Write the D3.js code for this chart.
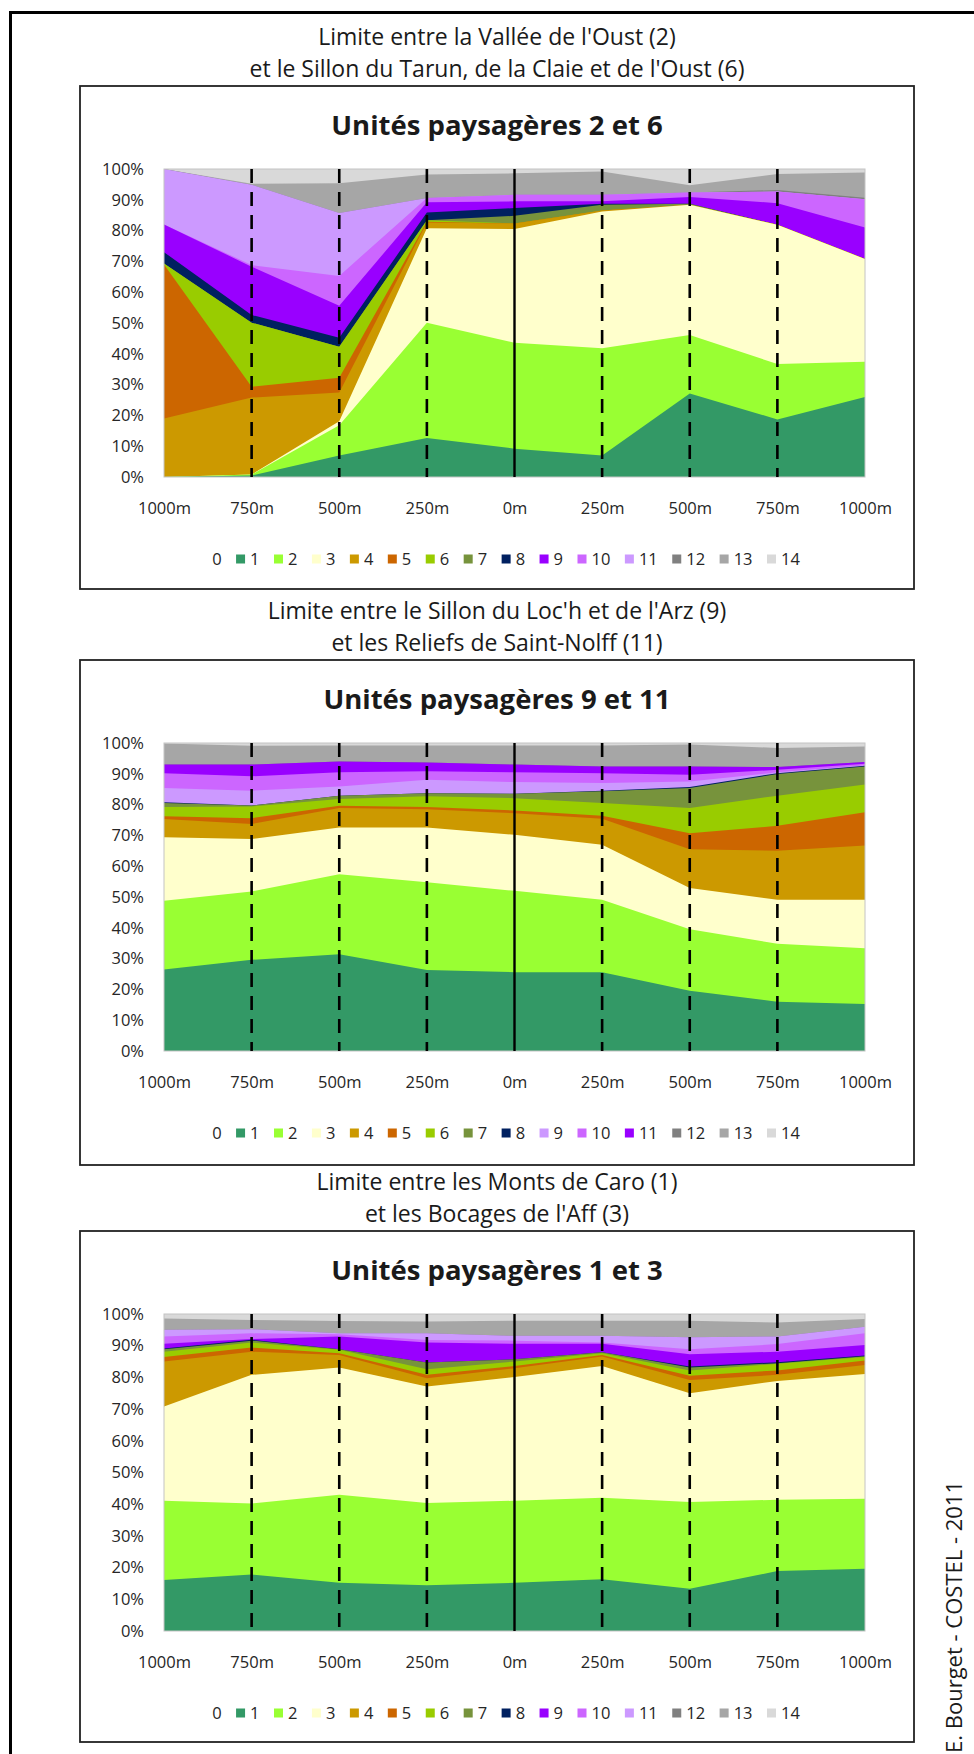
<!DOCTYPE html>
<html>
<head>
<meta charset="utf-8">
<title>Unités paysagères</title>
<script src="https://d3js.org/d3.v7.min.js"></script>
<style>
    body { margin: 0; background: #fff; }
    svg text { font-family: "Open Sans", "DejaVu Sans", sans-serif; fill: #1a1a1a; }
    .limit { font-size: 23px; }
    .ctitle { font-size: 27.5px; font-weight: bold; }
    .axis text { font-size: 16.5px; fill: #262626; }
    .legend text { font-size: 16.5px; fill: #262626; }
    .credit { font-size: 22px; }
</style>
</head>
<body>
<div id="chart"></div>
<script>
    // distance to the boundary between the two landscape units
    const distances = ["1000m", "750m", "500m", "250m", "0m", "250m", "500m", "750m", "1000m"];
    const units = d3.range(15); // land cover classes 0..14

    const colors = ["#FFFFFF", "#339966", "#99FF33", "#FFFFCC", "#CC9900", "#CC6600", "#99CC00", "#77933C",
        "#002060", "#9900FF", "#CC66FF", "#CC99FF", "#808080", "#A6A6A6", "#D9D9D9"];
    // the second chart swaps the colours of classes 9 and 11
    const colors911 = ["#FFFFFF", "#339966", "#99FF33", "#FFFFCC", "#CC9900", "#CC6600", "#99CC00", "#77933C",
        "#002060", "#CC99FF", "#CC66FF", "#9900FF", "#808080", "#A6A6A6", "#D9D9D9"];

    // % per class (rows 0..14), one column per distance
    const values26 = [
        [0, 0, 0, 0, 0, 0, 0, 0, 0],
        [0, 0.5, 7.0, 12.7, 9.2, 7.0, 27.1, 18.7, 26.0],
        [0, 0.3, 9.8, 37.4, 34.4, 34.8, 19.0, 18.0, 11.4],
        [0, 0, 1.3, 30.7, 36.9, 44.4, 42.3, 45.2, 33.4],
        [19, 25, 9.3, 1.8, 1.8, 0.3, 0, 0, 0],
        [50, 3.5, 4.8, 0.3, 0, 0, 0, 0, 0],
        [0.3, 20.8, 10.1, 0.5, 0, 0, 0, 0, 0],
        [0, 0, 0, 0, 2.5, 1.9, 0.3, 0, 0],
        [3.7, 2.5, 2.9, 2.5, 2.5, 0.3, 0, 0, 0],
        [9, 15.7, 10.4, 3.3, 2.2, 0.8, 2.2, 7.0, 10.2],
        [0, 0.5, 9.7, 1.4, 2.1, 2.1, 1.5, 3.8, 9.2],
        [18, 26.1, 20.4, 0, 0, 0, 0, 0, 0],
        [0, 0, 0, 0, 0, 0, 0, 0.5, 0.5],
        [0, 0.3, 9.7, 7.6, 7.0, 7.6, 2.3, 5.2, 8.2],
        [0, 4.8, 4.6, 1.8, 1.4, 0.8, 5.3, 1.6, 1.1]
    ];

    const values911 = [
        [0, 0, 0, 0, 0, 0, 0, 0, 0],
        [26.5, 29.6, 31.4, 26.3, 25.6, 25.6, 19.6, 16.0, 15.3],
        [22.3, 22.2, 26.0, 28.5, 26.4, 23.5, 19.9, 18.8, 18.1],
        [20.6, 17.0, 15.2, 17.8, 18.2, 17.9, 13.4, 14.3, 15.7],
        [5.9, 4.9, 6.3, 5.9, 7.0, 8.4, 12.6, 15.9, 17.6],
        [0.9, 1.9, 0.7, 0.7, 0.9, 1.0, 5.2, 8.1, 10.8],
        [3.0, 3.8, 2.2, 3.5, 4.0, 4.1, 8.2, 9.8, 9.0],
        [1.3, 0.3, 1.1, 1.0, 1.4, 3.8, 6.5, 7.0, 5.9],
        [0.3, 0, 0, 0, 0, 0.2, 0.3, 0.3, 0.2],
        [4.6, 4.8, 3.0, 4.4, 3.8, 2.5, 1.8, 0.3, 0.2],
        [4.8, 4.7, 4.6, 2.7, 3.2, 3.2, 2.2, 0.8, 0.5],
        [2.8, 3.8, 3.5, 2.9, 2.5, 2.2, 2.7, 0.9, 0.5],
        [0, 0, 0, 0, 0, 0, 0, 0, 0],
        [6.8, 6.1, 5.2, 5.5, 6.2, 6.8, 7.1, 6.2, 5.1],
        [0.2, 0.9, 0.8, 0.8, 0.8, 0.8, 0.5, 1.6, 1.1]
    ];

    const values13 = [
        [0, 0, 0, 0, 0, 0, 0, 0, 0],
        [16.1, 17.8, 15.2, 14.4, 15.2, 16.3, 13.3, 18.9, 19.6],
        [25.0, 22.4, 27.8, 26.0, 25.9, 25.7, 27.4, 22.5, 22.1],
        [29.7, 40.6, 40.1, 36.7, 39.0, 41.6, 34.3, 37.5, 39.4],
        [14.2, 7.3, 4.0, 2.6, 2.8, 3.0, 4.2, 1.9, 2.8],
        [1.4, 1.3, 0.5, 1.1, 0.7, 0.5, 1.3, 1.4, 1.4],
        [1.7, 1.6, 1.1, 1.8, 1.4, 0.5, 1.7, 2.1, 1.1],
        [0.8, 0.6, 0.2, 2.1, 0.7, 0.3, 0.9, 0.2, 0.3],
        [0.2, 0.3, 0, 0, 0, 0, 0.3, 0.3, 0.2],
        [1.5, 0.2, 4.0, 6.3, 4.9, 2.7, 3.9, 3.3, 3.3],
        [2.3, 1.8, 0.7, 0.8, 1.0, 0.4, 1.6, 2.4, 3.7],
        [2.1, 1.3, 0.3, 2.1, 1.5, 2.1, 3.8, 2.4, 2.1],
        [0, 0, 0, 0, 0, 0, 0, 0, 0],
        [3.6, 2.9, 3.9, 3.7, 4.8, 4.8, 5.2, 4.4, 2.4],
        [1.4, 1.9, 2.2, 2.4, 2.1, 2.1, 2.1, 2.7, 1.6]
    ];

    const limits26 = ["Limite entre la Vallée de l'Oust (2)", "et le Sillon du Tarun, de la Claie et de l'Oust (6)"];
    const limits911 = ["Limite entre le Sillon du Loc'h et de l'Arz (9)", "et les Reliefs de Saint-Nolff (11)"];
    const limits13 = ["Limite entre les Monts de Caro (1)", "et les Bocages de l'Aff (3)"];

    const width = 974, height = 1754;
    const boxLeft = 80, boxRight = 914;
    const plotLeft = 164, plotRight = 865;

    const svg = d3.select("#chart").append("svg")
        .attr("width", width)
        .attr("height", height);

    // outer frame
    svg.append("rect")
        .attr("x", 10.5).attr("y", 12.5)
        .attr("width", 1000).attr("height", 1800)
        .attr("fill", "none").attr("stroke", "#000").attr("stroke-width", 3);

    const charts = [
        { limits: limits26, title: "Unités paysagères 2 et 6", values: values26, colors: colors, top: 86, plotH: 308, boxH: 503 },
        { limits: limits911, title: "Unités paysagères 9 et 11", values: values911, colors: colors911, top: 660, plotH: 308, boxH: 505 },
        { limits: limits13, title: "Unités paysagères 1 et 3", values: values13, colors: colors, top: 1231, plotH: 317, boxH: 511 }
    ];

    const cx = (boxLeft + boxRight) / 2;

    charts.forEach(function(c) {
        const g = svg.append("g");
        const py0 = c.top + 83, py1 = py0 + c.plotH;

        // two-line heading above the box
        g.selectAll(".limit")
            .data(c.limits)
            .join("text")
            .attr("class", "limit")
            .attr("x", cx)
            .attr("y", (d, i) => c.top - 49 + i * 32)
            .attr("dy", "0.35em")
            .attr("text-anchor", "middle")
            .text(d => d);

        g.append("rect")
            .attr("x", boxLeft).attr("y", c.top)
            .attr("width", boxRight - boxLeft).attr("height", c.boxH)
            .attr("fill", "#fff").attr("stroke", "#222").attr("stroke-width", 1.8);

        g.append("text")
            .attr("class", "ctitle")
            .attr("x", cx).attr("y", c.top + 39)
            .attr("dy", "0.35em")
            .attr("text-anchor", "middle")
            .text(c.title);

        const x = d3.scalePoint().domain(d3.range(distances.length)).range([plotLeft, plotRight]);
        const y = d3.scaleLinear().domain([0, 1]).range([py1, py0]);

        const rows = distances.map((_, j) => {
            const r = {};
            units.forEach(k => { r[k] = c.values[k][j]; });
            return r;
        });
        const series = d3.stack().keys(units).offset(d3.stackOffsetExpand)(rows);

        // paint from the top class down, each area filled to the baseline
        const area = d3.area()
            .x((d, i) => x(i))
            .y0(py1)
            .y1(d => y(d[1]));

        g.append("g")
            .selectAll("path")
            .data(series.slice().reverse())
            .join("path")
            .attr("d", area)
            .attr("fill", d => c.colors[d.key]);

        g.append("rect")
            .attr("x", plotLeft).attr("y", py0)
            .attr("width", plotRight - plotLeft).attr("height", py1 - py0)
            .attr("fill", "none").attr("stroke", "#c4c4c4").attr("stroke-width", 1);

        // distance markers
        g.append("g")
            .selectAll("line")
            .data(d3.range(1, distances.length - 1))
            .join("line")
            .attr("x1", i => x(i)).attr("x2", i => x(i))
            .attr("y1", py0).attr("y2", py1)
            .attr("stroke", "#000")
            .attr("stroke-width", i => i === 4 ? 2.4 : 2.6)
            .attr("stroke-dasharray", i => i === 4 ? null : "14,9");

        g.append("g")
            .attr("class", "axis")
            .attr("transform", `translate(${plotLeft},0)`)
            .call(d3.axisLeft(y).tickValues(d3.range(0, 11).map(v => v / 10))
                .tickFormat(d3.format(".0%")).tickSize(0).tickPadding(20))
            .call(a => a.select(".domain").remove());

        g.append("g")
            .attr("class", "axis")
            .attr("transform", `translate(0,${py1})`)
            .call(d3.axisBottom(x).tickFormat(i => distances[i]).tickSize(0).tickPadding(25))
            .call(a => a.select(".domain").remove());

        // legend
        const leg = g.append("g").attr("class", "legend");
        let lx = 0;
        units.forEach(function(k) {
            leg.append("rect")
                .attr("x", lx).attr("y", -4.5)
                .attr("width", 9).attr("height", 9)
                .attr("fill", c.colors[k]);
            const t = leg.append("text")
                .attr("x", lx + 14).attr("y", 0)
                .attr("dy", "0.35em")
                .text(k);
            lx += 14 + t.node().getComputedTextLength() + 14.5;
        });
        lx -= 14.5;
        leg.attr("transform", `translate(${cx - lx / 2 + 2},${py1 + 82})`);
    });

    svg.append("text")
        .attr("class", "credit")
        .attr("transform", "translate(962,1617) rotate(-90)")
        .attr("text-anchor", "middle")
        .text("E. Bourget - COSTEL - 2011");
</script>
</body>
</html>
